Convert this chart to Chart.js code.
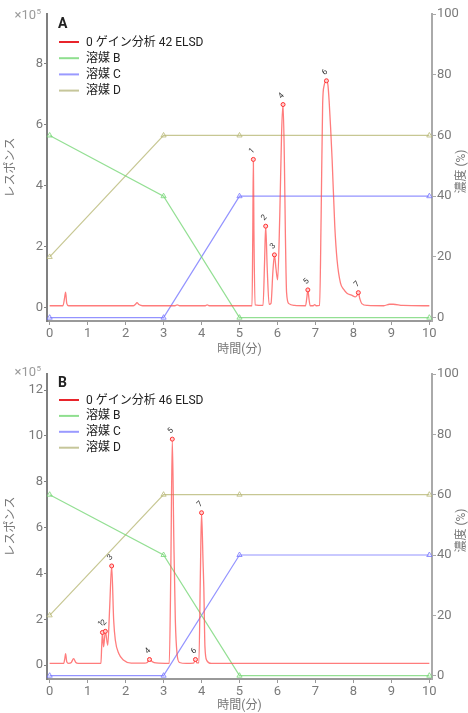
<!DOCTYPE html>
<html>
<head>
<meta charset="utf-8">
<script src="https://cdn.jsdelivr.net/npm/chart.js@4.4.1/dist/chart.umd.min.js"></script>
<style>
  html, body { margin: 0; padding: 0; background: #ffffff; }
  #wrap { position: relative; width: 468px; height: 713px; }
  .panel { position: absolute; left: 0; width: 468px; }
</style>
</head>
<body>
<div id="wrap">
  <div class="panel" style="top:0;height:357px"><canvas id="chartA"></canvas></div>
  <div class="panel" style="top:357px;height:356px"><canvas id="chartB"></canvas></div>
</div>
<script>
// ---- axis ticks ----
const timeTicks = [0, 1, 2, 3, 4, 5, 6, 7, 8, 9, 10];
const responseTicksA = [0, 2, 4, 6, 8];
const responseTicksB = [0, 2, 4, 6, 8, 10, 12];
const concTicks = [0, 20, 40, 60, 80, 100];

// ---- solvent gradient (%), same program for both runs ----
const gradientTimes = [0, 3, 5, 10];
const solventB = [60, 40, 0, 0];
const solventC = [0, 0, 40, 40];
const solventD = [20, 60, 60, 60];

// ---- run A: ELSD trace (response in units of 10^5) ----
const traceNameA = '0 ゲイン分析 42 ELSD';
const traceTimesA = [0, 0.35, 0.39, 0.42, 0.45, 0.5, 2.2, 2.26, 2.3, 2.35, 2.45, 3.3, 3.36, 3.42, 4.1, 4.15, 4.2,
  5.33, 5.35, 5.365, 5.38, 5.41, 5.62, 5.66, 5.69, 5.73, 5.78, 5.83, 5.88, 5.92, 5.96, 6.005, 6.06, 6.11, 6.147,
  6.18, 6.21, 6.24, 6.3, 6.45, 6.74, 6.77, 6.8, 6.83, 6.86, 6.94, 6.98, 7.02, 7.11, 7.15, 7.19, 7.23, 7.29, 7.33,
  7.36, 7.4, 7.44, 7.51, 7.57, 7.66, 7.75, 7.83, 7.95, 8.05, 8.1, 8.13, 8.17, 8.22, 8.37, 8.8, 8.95, 9.05, 9.3, 10];
const traceValuesA = [0.07, 0.07, 0.3, 0.52, 0.15, 0.07, 0.07, 0.12, 0.17, 0.11, 0.07, 0.07, 0.1, 0.07, 0.07, 0.1, 0.07,
  0.07, 2.5, 4.87, 2.5, 0.1, 0.08, 1.5, 2.68, 1.3, 0.12, 0.15, 1.2, 1.74, 1.3, 0.92, 3.0, 5.8, 6.67,
  5.0, 2.3, 0.5, 0.14, 0.08, 0.07, 0.3, 0.59, 0.3, 0.07, 0.07, 0.11, 0.07, 0.08, 3.0, 6.7, 7.3, 7.45, 7.3,
  6.8, 5.9, 4.85, 2.67, 1.57, 0.81, 0.6, 0.48, 0.42, 0.36, 0.42, 0.5, 0.3, 0.14, 0.08, 0.07, 0.12, 0.12, 0.08, 0.07];
const peakLabelsA = ['1', '2', '3', '4', '5', '6', '7'];
const peakTimesA = [5.365, 5.69, 5.92, 6.147, 6.8, 7.29, 8.13];
const peakValuesA = [4.87, 2.68, 1.74, 6.67, 0.59, 7.45, 0.5];

// ---- run B ----
const traceNameB = '0 ゲイン分析 46 ELSD';
const traceTimesB = [0, 0.37, 0.4, 0.42, 0.45, 0.5, 0.57, 0.63, 0.69, 0.75, 1.35, 1.37, 1.39, 1.42, 1.467, 1.53,
  1.58, 1.633, 1.686, 1.73, 1.82, 1.95, 2.15, 2.5, 2.57, 2.63, 2.7, 2.8, 3.15, 3.19, 3.23, 3.27, 3.31, 3.355,
  3.42, 3.6, 3.79, 3.84, 3.88, 3.93, 3.97, 4.0, 4.04, 4.06, 4.09, 4.14, 4.25, 10];
const traceValuesB = [0.08, 0.08, 0.3, 0.51, 0.15, 0.08, 0.12, 0.29, 0.12, 0.08, 0.08, 0.8, 1.43, 0.8, 1.48, 0.87,
  2.5, 4.33, 1.96, 1.09, 0.51, 0.22, 0.09, 0.09, 0.12, 0.25, 0.16, 0.1, 0.08, 4.0, 9.86, 5.5, 1.96, 0.5,
  0.12, 0.08, 0.09, 0.25, 0.1, 0.1, 4.0, 6.65, 4.5, 3.41, 0.8, 0.2, 0.08, 0.08];
const peakLabelsB = ['1', '2', '3', '4', '5', '6', '7'];
const peakTimesB = [1.39, 1.467, 1.633, 2.63, 3.23, 3.84, 4.0];
const peakValuesB = [1.43, 1.48, 4.33, 0.25, 9.86, 0.25, 6.65];

const concTitle = '濃度 (%)';

Chart.defaults.font.family = "Roboto, 'Noto Sans CJK JP', sans-serif";
Chart.defaults.color = '#7a7a7a';

const pts = (xs, ys) => xs.map((x, i) => ({ x: x, y: ys[i] }));

const legendColors = ['#e8242b', '#8fdf8f', '#9a9aff', '#c6c69a'];

// panel letter, legend block, ×10^5 multiplier, right-hand axis title and peak numbers
const panelDecor = {
  id: 'panelDecor',
  afterDatasetsDraw(chart) {
    const o = chart.options.plugins.panelDecor;
    const ctx = chart.ctx;
    const meta = chart.getDatasetMeta(0);
    ctx.save();
    ctx.fillStyle = '#333';
    ctx.font = "8px Roboto, sans-serif";
    ctx.textAlign = 'center';
    ctx.textBaseline = 'middle';
    meta.data.forEach((pt, i) => {
      ctx.save();
      ctx.translate(pt.x - 1.5, pt.y - 8.5);
      ctx.rotate(-Math.PI / 4);
      ctx.fillText(o.labels[i], 0, 0);
      ctx.restore();
    });
    ctx.restore();
  },
  afterDraw(chart) {
    const o = chart.options.plugins.panelDecor;
    const ctx = chart.ctx;
    const a = chart.chartArea;
    ctx.save();
    // right-hand axis title, read bottom to top like the left one
    ctx.fillStyle = '#777';
    ctx.font = "12px Roboto, 'Noto Sans CJK JP', sans-serif";
    ctx.textAlign = 'center';
    ctx.textBaseline = 'middle';
    ctx.save();
    ctx.translate(chart.width - 6, (a.top + a.bottom) / 2 + 4);
    ctx.rotate(-Math.PI / 2);
    ctx.fillText(concTitle, 0, 0);
    ctx.restore();
    // multiplier
    ctx.fillStyle = '#9a9a9a';
    ctx.textAlign = 'right';
    ctx.font = "13px Roboto, sans-serif";
    ctx.fillText('×10', 36, a.top + o.multDy);
    ctx.textAlign = 'left';
    ctx.font = "8px Roboto, sans-serif";
    ctx.fillText('5', 36.5, a.top + o.multDy - 4);
    // letter
    ctx.fillStyle = '#222';
    ctx.font = "bold 14px Roboto, sans-serif";
    ctx.fillText(o.letter, a.left + 11, a.top + o.letterDy);
    // legend entries
    const names = [o.traceName, '溶媒 B', '溶媒 C', '溶媒 D'];
    ctx.font = "12px Roboto, 'Noto Sans CJK JP', sans-serif";
    names.forEach((n, i) => {
      const y = a.top + o.legendDy + i * o.legendStep;
      ctx.strokeStyle = legendColors[i];
      ctx.lineWidth = 2;
      ctx.beginPath();
      ctx.moveTo(a.left + 12, y);
      ctx.lineTo(a.left + 32, y);
      ctx.stroke();
      ctx.fillStyle = '#222';
      ctx.fillText(n, a.left + 39, y + 0.5);
    });
    ctx.restore();
  }
};

function solventSet(label, values, color) {
  return {
    label: label,
    data: pts(gradientTimes, values),
    yAxisID: 'y2',
    borderColor: color,
    borderWidth: 1.2,
    pointStyle: 'triangle',
    pointRadius: 3,
    pointBorderWidth: 1,
    pointBackgroundColor: 'rgba(255,255,255,0)',
    pointBorderColor: color,
    clip: false
  };
}

function makeChart(id, cfg) {
  return new Chart(document.getElementById(id), {
    type: 'line',
    data: {
      datasets: [
        {
          label: 'peaks',
          data: pts(cfg.peakTimes, cfg.peakValues),
          yAxisID: 'y',
          showLine: false,
          pointRadius: 2,
          pointBorderWidth: 1,
          pointBorderColor: '#ff3030',
          pointBackgroundColor: '#ffd0d0'
        },
        {
          label: cfg.traceName,
          data: pts(cfg.traceTimes, cfg.traceValues),
          yAxisID: 'y',
          borderColor: 'rgba(255, 80, 80, 0.75)',
          borderWidth: 1.3,
          pointRadius: 0,
          cubicInterpolationMode: 'monotone'
        },
        solventSet('溶媒 B', solventB, 'rgba(120, 215, 120, 0.8)'),
        solventSet('溶媒 C', solventC, 'rgba(120, 120, 255, 0.8)'),
        solventSet('溶媒 D', solventD, 'rgba(185, 185, 120, 0.8)')
      ]
    },
    options: {
      responsive: true,
      maintainAspectRatio: false,
      animation: false,
      layout: { padding: { top: cfg.padTop, left: 0, right: 0, bottom: 0 } },
      plugins: {
        legend: { display: false },
        tooltip: { enabled: false },
        panelDecor: {
          letter: cfg.letter, traceName: cfg.traceName, labels: cfg.peakLabels,
          multDy: cfg.multDy, letterDy: cfg.letterDy, legendDy: cfg.legendDy, legendStep: cfg.legendStep
        }
      },
      scales: {
        x: {
          type: 'linear',
          min: -0.07, max: 10.07,
          afterBuildTicks: s => { s.ticks = timeTicks.map(v => ({ value: v })); },
          afterFit: s => { s.height = cfg.xHeight; },
          grid: { drawOnChartArea: false, tickLength: 4, color: '#999' },
          border: { color: '#999', width: 2 },
          ticks: { color: '#7a7a7a', font: { size: 13 }, padding: 1, maxRotation: 0, autoSkip: false },
          title: { display: true, text: '時間(分)', color: '#777', font: { size: 12 }, padding: { top: 0, bottom: 0 } }
        },
        y: {
          type: 'linear',
          position: 'left',
          min: cfg.yMin, max: cfg.yMax,
          afterBuildTicks: s => { s.ticks = cfg.yTicks.map(v => ({ value: v })); },
          afterFit: s => { s.width = 47; },
          grid: { drawOnChartArea: false, tickLength: 3, color: '#808080' },
          border: { color: '#808080', width: 2 },
          ticks: { color: '#7a7a7a', font: { size: 13 }, padding: 1 },
          title: { display: true, text: 'レスポンス', color: '#777', font: { size: 12 }, padding: { top: 4, bottom: 0 } }
        },
        y2: {
          type: 'linear',
          position: 'right',
          min: -1.1, max: 100,
          afterBuildTicks: s => { s.ticks = concTicks.map(v => ({ value: v })); },
          afterFit: s => { s.width = 36; },
          grid: { drawOnChartArea: false, tickLength: 4, color: '#aaa' },
          border: { color: '#aaa', width: 2 },
          ticks: { color: '#7a7a7a', font: { size: 13 }, padding: 1 },
          title: { display: false }
        }
      }
    },
    plugins: [panelDecor]
  });
}

makeChart('chartA', {
  letter: 'A', traceName: traceNameA,
  traceTimes: traceTimesA, traceValues: traceValuesA,
  peakTimes: peakTimesA, peakValues: peakValuesA, peakLabels: peakLabelsA,
  yTicks: responseTicksA, yMin: -0.43, yMax: 9.64,
  padTop: 14, xHeight: 36,
  multDy: 1.5, letterDy: 10, legendDy: 28, legendStep: 16.2
});

makeChart('chartB', {
  letter: 'B', traceName: traceNameB,
  traceTimes: traceTimesB, traceValues: traceValuesB,
  peakTimes: peakTimesB, peakValues: peakValuesB, peakLabels: peakLabelsB,
  yTicks: responseTicksB, yMin: -0.6, yMax: 12.7,
  padTop: 17, xHeight: 34,
  multDy: -1, letterDy: 9, legendDy: 26, legendStep: 15.9
});
</script>
</body>
</html>
